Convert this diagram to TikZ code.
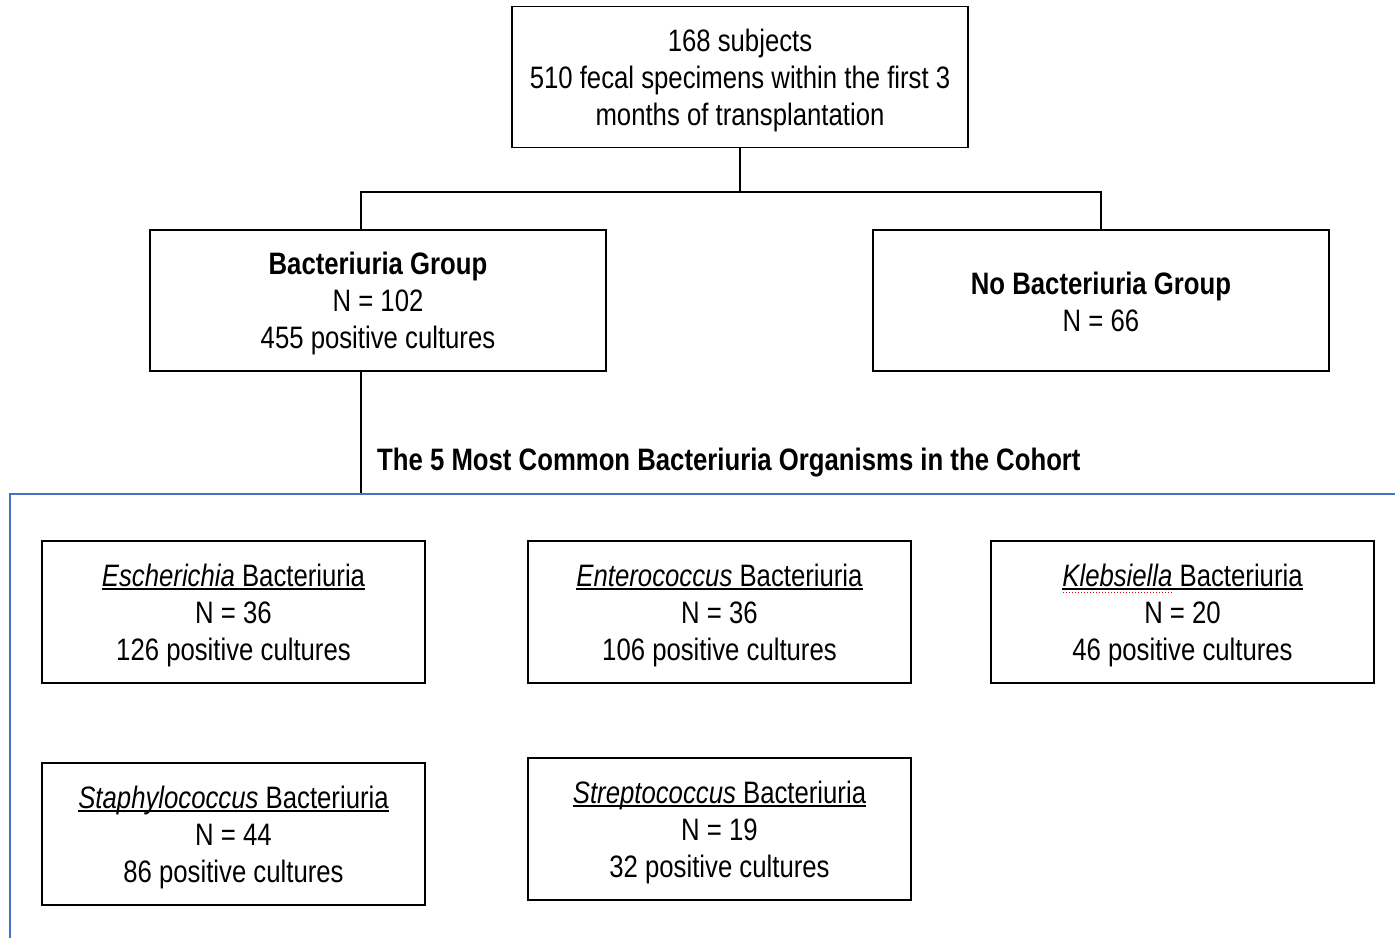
\documentclass[tikz,border=0pt]{standalone}
\usepackage{fontspec}
\setmainfont{Liberation Sans}[FakeStretch=0.83]
\newcommand{\myul}[1]{\setbox0\hbox{#1}\rlap{\vrule width \wd0 height -2.2pt depth 4pt}\box0}
\definecolor{lineblue}{HTML}{4472C4}
\begin{document}
\begin{tikzpicture}[x=1pt,y=-1pt,
  txt/.style={align=center, inner sep=0pt, font=\fontsize{31}{37}\selectfont},
  box/.style={draw=black, line width=1.3pt, rectangle,
    minimum width=456pt, minimum height=141pt, inner sep=0pt},
  sbox/.style={box, minimum width=383pt, minimum height=142pt},
  conn/.style={draw=black, line width=1.3pt},
  blueline/.style={draw=lineblue, line width=1.6pt},
  spell/.style={draw=red!85!black, line width=1pt, dash pattern=on 1.2pt off 1.8pt}]
\useasboundingbox (0,0) rectangle (1395,938);
\node[box] (top) at (740,77) {};
\node[txt] (toptxt) at ([yshift=-3pt]top.center) {168 subjects\\510 fecal specimens within the first 3\\months of transplantation};
\node[box] (bg) at (378,300.5) {};
\node[txt] (bgtxt) at ([yshift=-3pt]bg.center) {\textbf{Bacteriuria Group}\\N = 102\\455 positive cultures};
\node[box] (nbg) at (1101,300.5) {};
\node[txt] (nbgtxt) at ([yshift=-1pt]nbg.center) {\textbf{No Bacteriuria Group}\\N = 66};
\coordinate (j) at (740,192);
\coordinate (bl) at (361,495);
\draw[conn] (top.south) -- (j);
\draw[conn] ([xshift=-17pt]bg.north) |- (j) -| (nbg.north);
\draw[conn] ([xshift=-17pt]bg.south) -- (bl);
\node[txt, anchor=west, font=\fontsize{31}{37}\selectfont\bfseries] (title) at (377,463) {The 5 Most Common Bacteriuria Organisms in the Cohort};
\coordinate (br) at (1395,494);
\coordinate (bb) at (10,938);
\draw[blueline] (br) -| (bb);
\node[sbox] (esc) at (233.5,612) {};
\node[txt] (esctxt) at ([yshift=-3pt]esc.center) {\myul{\textit{Escherichia} Bacteriuria}\\N = 36\\126 positive cultures};
\node[sbox] (ent) at (719.5,612) {};
\node[txt] (enttxt) at ([yshift=-3pt]ent.center) {\myul{\textit{Enterococcus} Bacteriuria}\\N = 36\\106 positive cultures};
\node[sbox] (kle) at (1182.5,612) {};
\node[txt] (kletxt) at ([yshift=-3pt]kle.center) {\myul{\textit{Klebsiella} Bacteriuria}\\N = 20\\46 positive cultures};
\coordinate (sq1) at (1063,592);
\coordinate (sq2) at (1172,592);
\draw[spell] (sq1) -- (sq2);
\node[sbox] (sta) at (233.5,834) {};
\node[txt] (statxt) at ([yshift=-3pt]sta.center) {\myul{\textit{Staphylococcus} Bacteriuria}\\N = 44\\86 positive cultures};
\node[sbox] (str) at (719.5,829) {};
\node[txt] (strtxt) at ([yshift=-3pt]str.center) {\myul{\textit{Streptococcus} Bacteriuria}\\N = 19\\32 positive cultures};
\end{tikzpicture}
\end{document}
